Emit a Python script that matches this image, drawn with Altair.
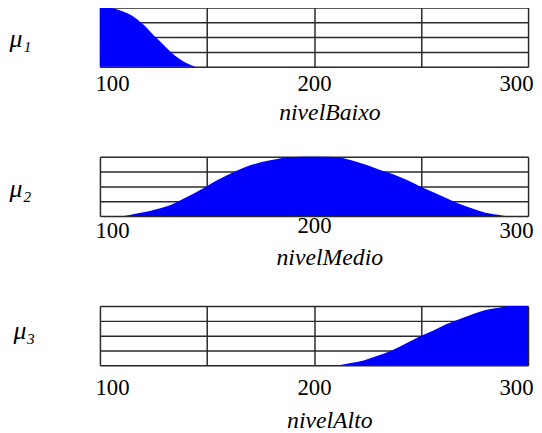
import altair as alt
import pandas as pd

# ---- data ----
x_baixo = [100, 103.0, 106.2, 110.8, 115.4, 119.3, 122.3, 125.4, 129.2, 133.1, 136.9, 140.8, 144.7]
mu_baixo = [1.0, 1.0, 0.985, 0.93, 0.85, 0.74, 0.64, 0.517, 0.39, 0.25, 0.14, 0.055, 0.0]

x_medio = [111.2, 116.6, 122.8, 129.0, 135.1, 139.7, 144.3, 149.7, 155.1, 161.3, 167.4, 175.1,
           182.8, 187.4, 195.2, 205.0, 212.4, 218.6, 224.7, 230.9, 237.0, 243.2, 249.6, 255.5,
           261.7, 267.8, 274.0, 280.1, 287.9, 289.4]
mu_medio = [0.0, 0.039, 0.083, 0.139, 0.222, 0.306, 0.389, 0.5, 0.611, 0.722, 0.817, 0.906,
            0.961, 0.99, 1.0, 1.0, 0.983, 0.928, 0.861, 0.778, 0.706, 0.611, 0.5, 0.406,
            0.306, 0.206, 0.128, 0.056, 0.011, 0.0]

x_alto = [211.6, 217.0, 223.2, 229.3, 235.5, 241.6, 249.6, 255.5, 261.7, 267.8, 274.0, 280.1,
          286.3, 291.7, 300.0]
mu_alto = [0.0, 0.039, 0.083, 0.156, 0.239, 0.344, 0.489, 0.583, 0.694, 0.778, 0.861, 0.933,
           0.972, 1.0, 1.0]

grid_x = [100, 150, 200, 250, 300]
grid_y = [0, 0.25, 0.5, 0.75, 1]
x_titles = ["nivelBaixo", "nivelMedio", "nivelAlto"]
y_titles = ["μ₁", "μ₂", "μ₃"]

W, H = 433, 60
SERIF = "'Liberation Serif', 'Times New Roman', serif"


def panel(xs, mus, xtitle, ytitle, title_y, ytx, yty, pad200, pad_other):
    df = pd.DataFrame({"x": xs, "mu": mus})
    xaxis = alt.Axis(
        values=grid_x,
        labelExpr="datum.value % 100 == 0 ? datum.label : ''",
        ticks=False, tickSize=0, domain=False,
        grid=True, gridColor="#2a2a2a", gridWidth=1.5, gridOpacity=1,
        labelFont=SERIF, labelFontSize=23, labelColor="black",
        labelBaseline="middle",
        labelPadding={"condition": {"test": "datum.value == 200", "value": pad200},
                      "value": pad_other},
        labelFlush=True, labelFlushOffset=5,
        title=xtitle, titleFont=SERIF, titleFontStyle="italic",
        titleFontWeight="normal", titleFontSize=24, titleColor="black",
        titleX=232, titleY=title_y, titleAlign="center", titleBaseline="middle",
    )
    yaxis = alt.Axis(
        values=grid_y, labels=False, ticks=False, tickSize=0, domain=False,
        grid=True, gridColor="#2a2a2a", gridWidth=1.5, gridOpacity=1,
        title=ytitle, titleAngle=0, titleFont=SERIF,
        titleFontStyle="italic", titleFontWeight="normal", titleFontSize=26,
        titleColor="black", titleX=ytx, titleY=yty, titleAlign="left",
        titleBaseline="middle",
    )
    return alt.Chart(df).mark_area(color="#0000ff", interpolate="monotone").encode(
        x=alt.X("x:Q", scale=alt.Scale(domain=[100, 300], nice=False, zero=False), axis=xaxis),
        y=alt.Y("mu:Q", scale=alt.Scale(domain=[0, 1], nice=False), axis=yaxis),
    ).properties(width=W, height=H)


p1 = panel(x_baixo, mu_baixo, x_titles[0], y_titles[0], 46, -92, 32, 17, 17)
p2 = panel(x_medio, mu_medio, x_titles[1], y_titles[1], 42, -92, 32, 10, 15)
p3 = panel(x_alto, mu_alto, x_titles[2], y_titles[2], 56, -88, 25, 22, 22)

chart = alt.vconcat(p1, p2, p3, spacing=91, bounds="flush").properties(
    padding={"left": 0, "top": -4, "right": 0, "bottom": 0}
).configure_view(stroke="black", strokeWidth=1.5).configure(background="white")

chart.save("out.html", embed_options={"renderer": "svg", "actions": False})
